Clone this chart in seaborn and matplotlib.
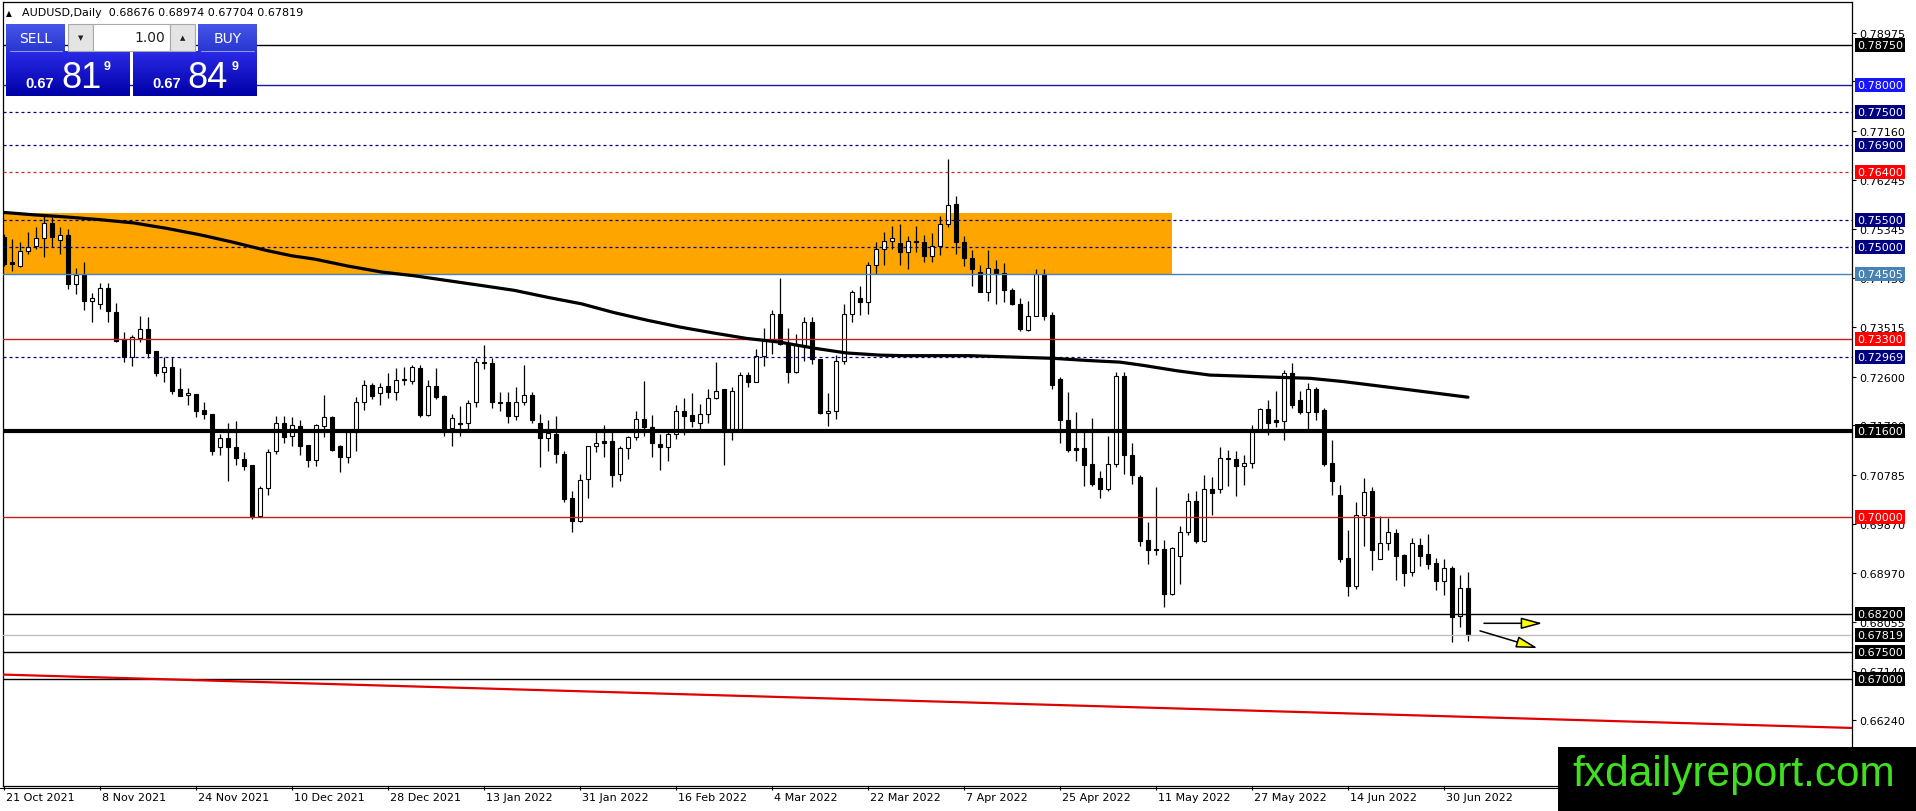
import matplotlib
matplotlib.use("Agg")
import matplotlib.pyplot as plt
import matplotlib.transforms as mtransforms
from matplotlib.patches import Rectangle, FancyArrowPatch
from matplotlib.colors import LinearSegmentedColormap
import numpy as np
import pandas as pd
import seaborn as sns

# ---- values (AUDUSD daily) ----
date_labels = ["21 Oct 2021", "8 Nov 2021", "24 Nov 2021", "10 Dec 2021", "28 Dec 2021",
               "13 Jan 2022", "31 Jan 2022", "16 Feb 2022", "4 Mar 2022", "22 Mar 2022",
               "7 Apr 2022", "25 Apr 2022", "11 May 2022", "27 May 2022", "14 Jun 2022",
               "30 Jun 2022"]

opens = [0.7519, 0.7472, 0.7466, 0.7493, 0.7502, 0.7517, 0.7545, 0.7514, 0.7523, 0.7431,
         0.7449, 0.7400, 0.7394, 0.7425, 0.7380, 0.7329, 0.7297, 0.7331, 0.7349, 0.7307,
         0.7268, 0.7278, 0.7237, 0.7226, 0.7228, 0.7198, 0.7190, 0.7129, 0.7146, 0.7129,
         0.7107, 0.7096, 0.7001, 0.7053, 0.7122, 0.7174, 0.7150, 0.7169, 0.7134, 0.7106,
         0.7169, 0.7185, 0.7131, 0.7112, 0.7157, 0.7214, 0.7244, 0.7229, 0.7242, 0.7232,
         0.7256, 0.7252, 0.7276, 0.7189, 0.7242, 0.7224, 0.7165, 0.7175, 0.7175, 0.7213,
         0.7287, 0.7285, 0.7213, 0.7213, 0.7187, 0.7213, 0.7227, 0.7175, 0.7146, 0.7154,
         0.7117, 0.7035, 0.6993, 0.7070, 0.7131, 0.7140, 0.7140, 0.7079, 0.7127, 0.7148,
         0.7182, 0.7167, 0.7135, 0.7129, 0.7153, 0.7196, 0.7189, 0.7174, 0.7191, 0.7220,
         0.7237, 0.7163, 0.7163, 0.7263, 0.7251, 0.7298, 0.7327, 0.7376, 0.7323, 0.7268,
         0.7318, 0.7361, 0.7293, 0.7192, 0.7197, 0.7289, 0.7376, 0.7406, 0.7398, 0.7467,
         0.7497, 0.7511, 0.7507, 0.7491, 0.7512, 0.7509, 0.7483, 0.7502, 0.7543, 0.7580,
         0.7509, 0.7480, 0.7454, 0.7417, 0.7460, 0.7452, 0.7421, 0.7395, 0.7347, 0.7373,
         0.7451, 0.7375, 0.7255, 0.7180, 0.7127, 0.7127, 0.7098, 0.7072, 0.7051, 0.7098,
         0.7261, 0.7115, 0.7075, 0.6957, 0.6941, 0.6941, 0.6857, 0.6928, 0.6973, 0.7029,
         0.6955, 0.7052, 0.7052, 0.7110, 0.7108, 0.7095, 0.7100, 0.7159, 0.7200, 0.7179,
         0.7177, 0.7266, 0.7216, 0.7194, 0.7237, 0.7199, 0.7100, 0.7041, 0.6924, 0.6873,
         0.7004, 0.7048, 0.6923, 0.6951, 0.6970, 0.6930, 0.6899, 0.6948, 0.6931, 0.6915,
         0.6882, 0.6905, 0.6817, 0.68676]
highs = [0.7525, 0.7515, 0.7509, 0.7528, 0.7538, 0.7559, 0.7556, 0.7537, 0.7534, 0.7461,
         0.7473, 0.7415, 0.7433, 0.7433, 0.7397, 0.7342, 0.7337, 0.7373, 0.7371, 0.7308,
         0.7296, 0.7296, 0.7276, 0.7239, 0.7228, 0.7213, 0.7190, 0.7154, 0.7174, 0.7177,
         0.7121, 0.7096, 0.7058, 0.7126, 0.7187, 0.7188, 0.7185, 0.7179, 0.7134, 0.7172,
         0.7226, 0.7187, 0.7134, 0.7157, 0.7222, 0.7254, 0.7248, 0.7248, 0.7267, 0.7276,
         0.7278, 0.7281, 0.7281, 0.7253, 0.7276, 0.7226, 0.7191, 0.7205, 0.7216, 0.7294,
         0.7318, 0.7295, 0.7231, 0.7231, 0.7240, 0.7281, 0.7231, 0.7191, 0.7179, 0.7187,
         0.7123, 0.7049, 0.7080, 0.7132, 0.7158, 0.7171, 0.7158, 0.7132, 0.7151, 0.7197,
         0.7252, 0.7189, 0.7154, 0.7160, 0.7208, 0.7220, 0.7229, 0.7210, 0.7237, 0.7287,
         0.7237, 0.7240, 0.7268, 0.7269, 0.7311, 0.7350, 0.7384, 0.7442, 0.7350, 0.7339,
         0.7370, 0.7370, 0.7293, 0.7229, 0.7300, 0.7395, 0.7421, 0.7429, 0.7473, 0.7509,
         0.7529, 0.7539, 0.7543, 0.7520, 0.7539, 0.7522, 0.7526, 0.7557, 0.7664, 0.7595,
         0.7520, 0.7495, 0.7467, 0.7494, 0.7477, 0.7471, 0.7424, 0.7405, 0.7401, 0.7460,
         0.7460, 0.7379, 0.7260, 0.7231, 0.7194, 0.7157, 0.7183, 0.7085, 0.7151, 0.7268,
         0.7268, 0.7138, 0.7078, 0.6991, 0.7056, 0.6957, 0.6944, 0.6984, 0.7044, 0.7049,
         0.7077, 0.7075, 0.7130, 0.7125, 0.7122, 0.7114, 0.7171, 0.7202, 0.7217, 0.7234,
         0.7273, 0.7286, 0.7234, 0.7248, 0.7240, 0.7202, 0.7142, 0.7059, 0.6975, 0.7027,
         0.7072, 0.7055, 0.7001, 0.6998, 0.6977, 0.6931, 0.6961, 0.6962, 0.6968, 0.6924,
         0.6922, 0.6910, 0.6892, 0.68974]
lows = [0.7466, 0.7455, 0.7464, 0.7488, 0.7497, 0.7481, 0.7500, 0.7488, 0.7422, 0.7413,
        0.7384, 0.7362, 0.7386, 0.7362, 0.7324, 0.7288, 0.7279, 0.7324, 0.7294, 0.7261,
        0.7251, 0.7228, 0.7224, 0.7208, 0.7186, 0.7182, 0.7115, 0.7115, 0.7066, 0.7096,
        0.7088, 0.6996, 0.7001, 0.7041, 0.7117, 0.7138, 0.7132, 0.7114, 0.7093, 0.7095,
        0.7148, 0.7123, 0.7084, 0.7101, 0.7123, 0.7199, 0.7219, 0.7208, 0.7221, 0.7216,
        0.7245, 0.7247, 0.7186, 0.7188, 0.7219, 0.7150, 0.7132, 0.7151, 0.7157, 0.7203,
        0.7274, 0.7202, 0.7197, 0.7174, 0.7179, 0.7208, 0.7174, 0.7093, 0.7123, 0.7100,
        0.7027, 0.6972, 0.6991, 0.7036, 0.7121, 0.7112, 0.7055, 0.7067, 0.7108, 0.7143,
        0.7150, 0.7112, 0.7088, 0.7104, 0.7145, 0.7152, 0.7167, 0.7163, 0.7174, 0.7218,
        0.7096, 0.7143, 0.7163, 0.7240, 0.7250, 0.7279, 0.7302, 0.7319, 0.7248, 0.7267,
        0.7290, 0.7284, 0.7190, 0.7168, 0.7182, 0.7284, 0.7362, 0.7375, 0.7376, 0.7451,
        0.7467, 0.7497, 0.7467, 0.7459, 0.7491, 0.7472, 0.7473, 0.7485, 0.7537, 0.7488,
        0.7466, 0.7429, 0.7417, 0.7401, 0.7394, 0.7398, 0.7392, 0.7345, 0.7345, 0.7373,
        0.7366, 0.7237, 0.7137, 0.7121, 0.7104, 0.7058, 0.7058, 0.7035, 0.7049, 0.7092,
        0.7080, 0.7061, 0.6947, 0.6913, 0.6930, 0.6833, 0.6856, 0.6876, 0.6967, 0.6952,
        0.6953, 0.7004, 0.7044, 0.7057, 0.7038, 0.7060, 0.7091, 0.7157, 0.7152, 0.7166,
        0.7143, 0.7202, 0.7190, 0.7164, 0.7179, 0.7095, 0.7040, 0.6916, 0.6854, 0.6867,
        0.6947, 0.6901, 0.6922, 0.6938, 0.6884, 0.6873, 0.6890, 0.6910, 0.6904, 0.6865,
        0.6856, 0.6768, 0.6797, 0.67704]
closes = [0.7469, 0.7469, 0.7493, 0.7501, 0.7517, 0.7545, 0.7518, 0.7523, 0.7432, 0.7449,
          0.7400, 0.7405, 0.7425, 0.7381, 0.7327, 0.7297, 0.7334, 0.7349, 0.7304, 0.7267,
          0.7278, 0.7233, 0.7225, 0.7230, 0.7197, 0.7190, 0.7123, 0.7146, 0.7129, 0.7109,
          0.7095, 0.7001, 0.7053, 0.7120, 0.7174, 0.7149, 0.7171, 0.7132, 0.7106, 0.7171,
          0.7185, 0.7125, 0.7112, 0.7157, 0.7214, 0.7244, 0.7225, 0.7240, 0.7232, 0.7254,
          0.7253, 0.7278, 0.7189, 0.7242, 0.7223, 0.7163, 0.7183, 0.7173, 0.7211, 0.7287,
          0.7285, 0.7213, 0.7212, 0.7187, 0.7213, 0.7227, 0.7179, 0.7146, 0.7155, 0.7116,
          0.7033, 0.6993, 0.7069, 0.7131, 0.7138, 0.7138, 0.7077, 0.7127, 0.7148, 0.7182,
          0.7167, 0.7138, 0.7129, 0.7153, 0.7196, 0.7188, 0.7177, 0.7191, 0.7220, 0.7234,
          0.7163, 0.7233, 0.7263, 0.7251, 0.7298, 0.7327, 0.7376, 0.7321, 0.7268, 0.7318,
          0.7361, 0.7293, 0.7192, 0.7197, 0.7289, 0.7376, 0.7417, 0.7398, 0.7467, 0.7497,
          0.7511, 0.7517, 0.7491, 0.7511, 0.7509, 0.7483, 0.7502, 0.7543, 0.7578, 0.7509,
          0.7480, 0.7460, 0.7417, 0.7461, 0.7451, 0.7420, 0.7395, 0.7349, 0.7372, 0.7451,
          0.7373, 0.7245, 0.7180, 0.7125, 0.7125, 0.7096, 0.7061, 0.7051, 0.7098, 0.7261,
          0.7114, 0.7077, 0.6956, 0.6939, 0.6939, 0.6857, 0.6943, 0.6973, 0.7029, 0.6955,
          0.7052, 0.7044, 0.7109, 0.7108, 0.7095, 0.7100, 0.7159, 0.7200, 0.7174, 0.7176,
          0.7266, 0.7208, 0.7195, 0.7237, 0.7195, 0.7098, 0.7067, 0.6922, 0.6873, 0.7004,
          0.7046, 0.6938, 0.6951, 0.6972, 0.6928, 0.6897, 0.6951, 0.6928, 0.6912, 0.6882,
          0.6905, 0.6815, 0.6868, 0.67819]

# moving average, sampled along the drawn curve (bar index, price)
ma_bars = [-0.5, 3.7, 7.8, 12, 16.2, 20.3, 24.5, 28.7, 32.8, 36, 38.8, 43, 47.2, 51.3,
           55.5, 59.7, 63.8, 68, 72.2, 76.2, 80.3, 84.5, 88.7, 92.8, 97, 101.2, 105.3,
           109.5, 112.4, 120.75, 127, 131.2, 135.5, 139.5, 142.4, 146.6, 150.75, 154.9,
           159, 163.25, 167.4, 175, 183]
ma_values = [0.7565, 0.7560, 0.7556, 0.7551, 0.7545, 0.7535, 0.7523, 0.7509, 0.7494,
             0.7484, 0.7478, 0.7465, 0.7454, 0.7447, 0.7438, 0.7429, 0.7420, 0.7407,
             0.7395, 0.7379, 0.7365, 0.7352, 0.7341, 0.7331, 0.7324, 0.7313, 0.7304,
             0.7300, 0.7299, 0.7299, 0.7296, 0.7294, 0.7290, 0.7287, 0.7281, 0.7271,
             0.7263, 0.7261, 0.7259, 0.7257, 0.7251, 0.7237, 0.7222]

# horizontal levels and their label/line style
level_prices = [0.78750, 0.78000, 0.77500, 0.76900, 0.76400, 0.75500, 0.75000, 0.74505,
                0.73300, 0.72969, 0.71600, 0.70000, 0.68200, 0.67819, 0.67500, 0.67000]
level_line_colors = ["black", "#1a1aa0", "#000080", "#000080", "#d42020", "#000080",
                     "#000080", "#4682b4", "#c81e1e", "#000080", "black", "#c81e1e",
                     "black", "#c0c0c0", "black", "black"]
level_box_colors = ["black", "#1515ff", "#000080", "#000080", "#ff0000", "#000080",
                    "#000080", "#4682b4", "#ff0000", "#000080", "black", "#ff0000",
                    "black", "black", "black", "black"]
level_dashed = [False, False, True, True, True, True, True, False,
                False, True, False, False, False, False, False, False]
level_widths = [1.0, 1.0, 0.9, 0.9, 0.9, 0.9, 0.9, 1.0,
                1.0, 0.9, 3.0, 1.0, 1.0, 1.0, 1.0, 1.0]

axis_ticks = [0.78975, 0.78075, 0.77160, 0.76245, 0.75345, 0.74430, 0.73515, 0.72600,
              0.71700, 0.70785, 0.69870, 0.68970, 0.68055, 0.67140, 0.66240]

zone_low, zone_high, zone_end = 0.74505, 0.75636, 146
trend_bars = [-0.2, 231.2]
trend_prices = [0.6708, 0.6609]
arrow_flat = [(185.0, 0.6803), (192.3, 0.6803)]
arrow_down = [(184.5, 0.6789), (191.7, 0.6757)]

header = "AUDUSD,Daily  0.68676 0.68974 0.67704 0.67819"

# ---- figure ----
sns.set_style("white")
plt.rcParams["font.family"] = ["DejaVu Sans"]

W, H = 1916, 812
fig = plt.figure(figsize=(W / 100, H / 100), dpi=100)
ax = fig.add_axes([3 / W, (H - 787) / H, (1852 - 3) / W, (787 - 3) / H])
ax.set_xlim(-0.125, 231.0)
ax.set_ylim(0.65015, 0.79544)

df = pd.DataFrame({"bar": np.arange(len(opens)), "open": opens, "high": highs,
                   "low": lows, "close": closes})
up = df["close"] >= df["open"]

# supply/demand zone
ax.add_patch(Rectangle((-1, zone_low), zone_end + 1, zone_high - zone_low,
                       facecolor="#ffa500", edgecolor="none", zorder=1))

# candles
ax.vlines(df["bar"], df["low"], df["high"], color="black", lw=0.9, zorder=3)
body_lo = df[["open", "close"]].min(axis=1)
body_h = (df["close"] - df["open"]).abs()
ax.bar(df["bar"][up], body_h[up], bottom=body_lo[up], width=0.62,
       color="white", edgecolor="black", linewidth=0.8, zorder=3.2)
ax.bar(df["bar"][~up], body_h[~up], bottom=body_lo[~up], width=0.62,
       color="black", edgecolor="black", linewidth=0.8, zorder=3.2)

# moving average
sns.lineplot(x=ma_bars, y=ma_values, ax=ax, color="black", lw=2.3, zorder=4)

# levels
for p, lc, dashed, lw in zip(level_prices, level_line_colors, level_dashed, level_widths):
    ax.axhline(p, color=lc, lw=lw, ls=(0, (2.4, 2.4)) if dashed else "-", zorder=3.6)

# trendline
ax.plot(trend_bars, trend_prices, color="#e00000", lw=1.6, zorder=3.6)

# arrows
for (x0, y0), (x1, y1) in [arrow_flat, arrow_down]:
    ax.add_patch(FancyArrowPatch((x0, y0), (x1, y1),
                                 arrowstyle="-|>,head_length=13,head_width=3.5",
                                 mutation_scale=1, lw=1.1, facecolor="#ffff00",
                                 edgecolor="black", shrinkA=0, shrinkB=0, zorder=5))

# axes decoration
ax.yaxis.tick_right()
ax.set_yticks(axis_ticks)
ax.set_yticklabels([f"{v:.5f}" for v in axis_ticks])
ax.set_xticks(np.arange(0, 12 * len(date_labels), 12))
ax.set_xticklabels(date_labels)
ax.tick_params(axis="y", which="both", right=True, left=False, direction="out",
               length=3, width=0.8, labelsize=8, pad=2, colors="black")
ax.tick_params(axis="x", bottom=True, direction="out", length=3, width=0.8,
               labelsize=8, pad=1.5, colors="black")
offset = mtransforms.ScaledTranslation(2 / 100, 0, fig.dpi_scale_trans)
for lbl in ax.get_xticklabels():
    lbl.set_horizontalalignment("left")
    lbl.set_transform(lbl.get_transform() + offset)
for s in ax.spines.values():
    s.set_visible(True)
    s.set_color("black")
    s.set_linewidth(0.9)
ax.set_xlabel("")
ax.set_ylabel("")

# coloured price labels on the right scale
blend = mtransforms.blended_transform_factory(ax.transAxes, ax.transData)
for p, bc in zip(level_prices, level_box_colors):
    ax.text(1.0 + 5 / 1849, p, f"{p:.5f}", transform=blend, ha="left", va="center",
            fontsize=8, color="white", zorder=6, clip_on=False,
            bbox=dict(boxstyle="square,pad=0.18", facecolor=bc, edgecolor="none"))

# ---- overlay (trade panel, header, watermark) in pixel units ----
ov = fig.add_axes([0, 0, 1, 1], zorder=10)
ov.patch.set_alpha(0)
ov.axis("off")

btn_cmap = LinearSegmentedColormap.from_list("btn", ["#4656ea", "#2737d0"])
px_cmap = LinearSegmentedColormap.from_list("px", ["#2a2ae8", "#0000a6"])
grad = np.linspace(0, 1, 64).reshape(-1, 1)
for (l, r, t, b, cm) in [(6, 65, 25, 52, btn_cmap), (198, 257, 25, 52, btn_cmap),
                         (6, 130, 52, 97, px_cmap), (133, 257, 52, 97, px_cmap)]:
    ov.imshow(grad, extent=(l, r, b, t), cmap=cm, aspect="auto", origin="upper",
              interpolation="bilinear", zorder=1)
ov.plot([10, 62], [52, 52], color="#8a96f0", lw=0.8, zorder=2)
ov.plot([201, 254], [52, 52], color="#8a96f0", lw=0.8, zorder=2)
ov.add_patch(Rectangle((68, 25), 25, 27, facecolor="#e4e4e4", edgecolor="#a8a8a8", lw=0.8, zorder=2))
ov.add_patch(Rectangle((93, 25), 77, 27, facecolor="white", edgecolor="#a8a8a8", lw=0.8, zorder=2))
ov.add_patch(Rectangle((170, 25), 25, 27, facecolor="#e4e4e4", edgecolor="#a8a8a8", lw=0.8, zorder=2))
ov.text(80.5, 38.5, "▼", fontsize=5, ha="center", va="center", color="#202020", zorder=3)
ov.text(182.5, 38, "▲", fontsize=5, ha="center", va="center", color="#202020", zorder=3)
ov.text(165, 38.5, "1.00", fontsize=10, ha="right", va="center", color="#202020", zorder=3)
ov.text(35.5, 39, "SELL", fontsize=10, ha="center", va="center", color="white", zorder=3)
ov.text(227.5, 39, "BUY", fontsize=10, ha="center", va="center", color="white", zorder=3)
for x_small, x_big, x_sup, big in [(25, 61, 104, "81"), (152, 187, 232, "84")]:
    ov.text(x_small, 87.5, "0.67", fontsize=10.5, fontweight="bold", family="Liberation Sans",
            color="white", ha="left", va="baseline", zorder=3)
    ov.text(x_big, 88.5, big, fontsize=26, family="Liberation Sans", color="white",
            ha="left", va="baseline", zorder=3)
    ov.text(x_sup, 61, "9", fontsize=9, fontweight="bold", family="Liberation Sans",
            color="white", ha="left", va="top", zorder=3)

ov.text(6, 13.5, "▲", fontsize=5.5, ha="left", va="center", color="black")
ov.text(22, 13.5, header, fontsize=8, ha="left", va="center", color="black")

# double bottom border
ov.plot([0, 1852], [789.3, 789.3], color="black", lw=0.8, zorder=1)

# watermark
ov.add_patch(Rectangle((1558, 748), W - 1558, H - 748, facecolor="black",
                       edgecolor="none", zorder=5))
ov.text(1572, 786, "fxdailyreport.com", fontsize=30.5, family="Liberation Sans",
        color="#40e020", ha="left", va="baseline", zorder=6)

ov.set_xlim(0, W)
ov.set_ylim(H, 0)

fig.savefig("out.png", dpi=100)
